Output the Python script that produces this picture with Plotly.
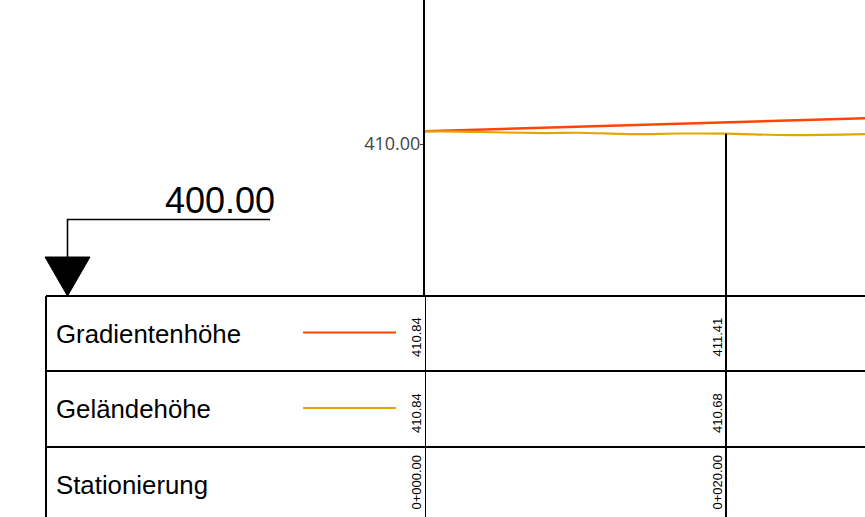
import plotly.graph_objects as go

# ---- data ----
datum = 400.0
stations = [0.0, 20.0, 29.97]
station_labels = ["0+000.00", "0+020.00", "0+029.97"]
gradient_z = [410.84, 411.41, 411.72]
ground_table_z = [410.84, 410.68, 410.66]
ground_st = [0.0, 3.0, 7.9, 10.2, 13.9, 16.8, 20.0, 24.6, 29.97]
ground_z = [410.84, 410.80, 410.72, 410.74, 410.65, 410.69, 410.68, 410.58, 410.66]
y_ticks = [410.0]
row_names = ["Gradientenhöhe", "Geländehöhe", "Stationierung"]

RED = "#FF4500"
YEL = "#E3A600"
FONT = "Liberation Sans, Arial, sans-serif"

W, H = 865, 517
x0_px = 425          # pixel of station 0
table_top = 296      # pixel of datum / table top
px_per_m_x = 15.05
px_per_m_y = 15.2
rows_px = [(296, 371), (371, 447), (447, 524)]

def py(p):  # pixel row -> paper y
    return (H - p) / H

def pxx(p):
    return p / W

fig = go.Figure()
fig.add_trace(go.Scatter(x=stations, y=gradient_z, mode="lines",
                         line=dict(color=RED, width=2.5), name=row_names[0],
                         showlegend=False, hoverinfo="skip"))
fig.add_trace(go.Scatter(x=ground_st, y=ground_z, mode="lines",
                         line=dict(color=YEL, width=2.2, shape="spline", smoothing=0.6),
                         name=row_names[1], showlegend=False, hoverinfo="skip"))

shapes = []
# table horizontal lines
for top, bot in rows_px:
    shapes.append(dict(type="line", xref="paper", yref="paper",
                       x0=pxx(46), x1=1.0, y0=py(top), y1=py(top),
                       line=dict(color="black", width=2)))
# left border of table
shapes.append(dict(type="line", xref="paper", yref="paper",
                   x0=pxx(46), x1=pxx(46), y0=0, y1=py(table_top),
                   line=dict(color="black", width=2)))
# station lines
for i, s in enumerate(stations):
    shapes.append(dict(type="line", xref="x", yref="paper", x0=s, x1=s,
                       y0=0, y1=py(table_top), line=dict(color="black", width=2)))
    if i > 0:
        shapes.append(dict(type="line", xref="x", yref="y", x0=s, x1=s,
                           y0=datum, y1=ground_table_z[i],
                           line=dict(color="black", width=2)))
# legend swatches
for (top, bot), col in zip(rows_px[:2], [RED, YEL]):
    yc = py((top + bot) / 2 - 1)
    shapes.append(dict(type="line", xref="paper", yref="paper",
                       x0=pxx(303), x1=pxx(396), y0=yc, y1=yc,
                       line=dict(color=col, width=2.2)))
# datum marker
shapes.append(dict(type="path", xref="paper", yref="paper",
                   path=f"M {pxx(270)},{py(219.5)} L {pxx(67.5)},{py(219.5)} L {pxx(67.5)},{py(258)}",
                   line=dict(color="black", width=1.6)))
shapes.append(dict(type="path", xref="paper", yref="paper",
                   path=f"M {pxx(45)},{py(257)} L {pxx(90)},{py(257)} L {pxx(67.5)},{py(296)} Z",
                   fillcolor="black", line=dict(color="black", width=1)))

annotations = []
# datum label
annotations.append(dict(xref="paper", yref="paper", x=pxx(276), y=py(200),
                        xanchor="right", yanchor="middle", showarrow=False,
                        text=f"{datum:.2f}", borderpad=0,
                        font=dict(family=FONT, size=36, color="black")))
# row names
for name, (top, bot) in zip(row_names, rows_px):
    yc = (top + min(bot, 522)) / 2
    annotations.append(dict(xref="paper", yref="paper", x=pxx(55), y=py(yc),
                            xanchor="left", yanchor="middle", showarrow=False,
                            text=name, borderpad=0,
                            font=dict(family=FONT, size=25.8, color="black")))
# rotated values
row_texts = [[f"{v:.2f}" for v in gradient_z],
             [f"{v:.2f}" for v in ground_table_z],
             station_labels]
for texts, (top, bot) in zip(row_texts, rows_px):
    for s, t in zip(stations, texts):
        annotations.append(dict(xref="x", yref="paper", x=s, y=py(bot - 13),
                                xanchor="center", yanchor="bottom", xshift=-9,
                                showarrow=False, text=t, textangle=-90, borderpad=0,
                                font=dict(family=FONT, size=13, color="black")))

fig.update_layout(
    width=W, height=H, margin=dict(l=0, r=0, t=0, b=0),
    paper_bgcolor="white", plot_bgcolor="white",
    showlegend=False, shapes=shapes, annotations=annotations,
    xaxis=dict(domain=[x0_px / W, 1.0],
               range=[0, (W - x0_px) / px_per_m_x],
               visible=False, fixedrange=True),
    yaxis=dict(domain=[py(table_top), 1.0],
               range=[datum, datum + table_top / px_per_m_y],
               tickvals=y_ticks, ticktext=[f"{v:.2f}" for v in y_ticks],
               ticks="outside", ticklen=3, tickwidth=1, tickcolor="#444",
               ticklabelstandoff=-4,
               showline=True, linecolor="black", linewidth=2,
               showgrid=False, zeroline=False,
               tickfont=dict(family="Open Sans", size=18, color="#444"),
               fixedrange=True),
)

fig.write_html("out.html", config={"displayModeBar": False},
               post_script="document.body.style.margin='0';document.body.style.overflow='hidden';")
